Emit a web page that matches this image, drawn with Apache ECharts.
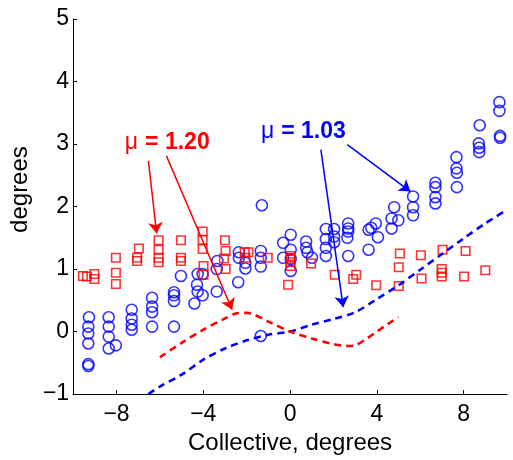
<!DOCTYPE html>
<html>
<head>
<meta charset="utf-8">
<script src="https://cdn.jsdelivr.net/npm/echarts@6/dist/echarts.min.js"></script>
<style>
html,body{margin:0;padding:0;background:#fff;}
#chart{width:513px;height:460px;}
</style>
</head>
<body>
<div id="chart"></div>
<script>
// ---- data ----
const blueX = [-9.27,-9.3,-9.3,-9.3,-9.3,-9.3,-8.36,-8.36,-8.36,-8.36,-8.03,-7.3,-7.3,-7.3,-7.3,-6.36,-6.36,-6.36,-6.36,-5.35,-5.35,-5.35,-5.35,-5.03,-4.26,-4.03,-4.29,-4.26,-4.03,-4.41,-3.38,-3.38,-3.35,-2.39,-2.36,-2.36,-2.06,-2.06,-1.35,-1.35,-1.35,-1.35,-1.3,-0.32,0.03,0.03,-0.32,0.03,0.03,0.74,0.74,0.8,1.01,1.65,2.03,1.65,2.03,2.03,1.65,1.65,2.68,2.68,2.68,2.64,2.68,3.62,3.74,3.95,4.05,3.62,4.68,4.8,4.99,4.68,5.67,5.67,5.67,6.7,6.7,6.7,6.7,7.67,7.67,7.69,7.69,8.74,8.7,8.72,8.72,9.65,9.65,9.68,9.68];
const blueY = [0.23,0.08,-0.03,-0.19,-0.52,-0.55,0.23,0.08,-0.08,-0.27,-0.22,0.35,0.21,0.11,0.03,0.54,0.4,0.31,0.08,0.63,0.58,0.49,0.08,0.89,0.92,0.92,0.75,0.64,0.58,0.45,0.64,1.0,1.13,0.79,1.27,1.18,1.1,1.01,1.29,1.18,1.04,-0.07,2.02,1.42,1.55,1.31,1.18,1.16,0.97,1.44,1.34,1.27,1.18,1.64,1.64,1.48,1.52,1.43,1.34,1.21,1.73,1.65,1.6,1.5,1.21,1.63,1.66,1.73,1.51,1.31,1.81,1.99,1.78,1.65,2.16,1.99,1.86,2.38,2.31,2.15,2.05,2.79,2.61,2.54,2.31,3.3,3.01,2.94,2.87,3.67,3.53,3.13,3.1];
const redX = [-9.55,-9.36,-9.02,-9.02,-8.03,-8.03,-8.03,-6.97,-7.05,-7.05,-6.06,-6.06,-6.06,-6.06,-5.03,-5.03,-5.03,-4.03,-4.03,-4.03,-3.99,-3.99,-3.0,-2.97,-3.05,-2.97,-2.09,-1.92,-2.06,-1.03,0.02,0.02,0.02,0.02,-0.09,0.97,2.06,2.91,3.05,3.97,5.06,5.01,5.01,6.03,6.06,7.03,6.99,6.99,6.99,8.09,8.02,9.0];
const redY = [0.89,0.88,0.92,0.84,1.18,0.94,0.76,1.33,1.18,1.13,1.46,1.31,1.18,1.11,1.46,1.18,1.13,1.6,1.47,1.32,1.05,0.91,1.46,1.29,1.17,1.0,1.27,1.27,1.18,1.18,1.21,1.16,1.11,1.05,0.75,1.09,0.91,0.84,0.91,0.74,1.25,1.03,0.73,1.22,0.85,1.31,1.0,0.94,0.88,1.29,0.88,0.98];
const blueFitX = [-6.53,-6.0,-5.0,-4.0,-3.0,-2.0,-1.0,0.0,1.0,2.0,3.0,4.0,5.0,6.0,7.0,8.0,9.0,10.0];
const blueFitY = [-1.0,-0.88,-0.69,-0.45,-0.27,-0.14,-0.05,0.0,0.11,0.2,0.31,0.52,0.74,0.99,1.24,1.49,1.73,1.95];
const redFitX = [-6.0,-5.0,-4.0,-3.0,-2.5,-2.0,-1.0,0.0,1.0,2.0,2.7,3.0,3.5,4.0,4.5,5.0];
const redFitY = [-0.41,-0.18,0.03,0.21,0.29,0.3,0.16,0.0,-0.11,-0.2,-0.23,-0.22,-0.12,0.0,0.12,0.23];
const xTicks = [-8,-4,0,4,8];
const redLabel = 'μ = 1.20';
const blueLabel = 'μ = 1.03';
// annotation anchors (data units): [x, y]
const redLabelAt = [-5.66, 3.03];
const blueLabelAt = [0.61, 3.20];
const redArrows = [[[-6.53, 2.73], [-6.15, 1.57]], [[-5.70, 2.81], [-2.67, 0.35]]];
const blueArrows = [[[1.42, 2.91], [2.45, 0.39]], [[2.64, 2.99], [5.55, 2.24]]];

const FONT = 'Liberation Sans, Arial, Helvetica, sans-serif';
const zip = (a, b) => a.map((v, i) => [v, b[i]]);
const fmt = v => String(v).replace('-', '\u2212');

function labelPoint(at, text, color) {
  const parts = text.split(' ');
  return {
    symbol: 'circle', symbolSize: 0, silent: true,
    data: [{ coord: at }],
    label: {
      show: true, position: 'inside',
      formatter: '{m|' + parts[0] + '}{b|' + parts.slice(1).join(' ') + '}',
      rich: {
        m: { color: color, fontSize: 23, fontFamily: FONT, fontWeight: 'normal', padding: [0, 7, 0, 0] },
        b: { color: color, fontSize: 23, fontFamily: FONT, fontWeight: 'bold' }
      }
    }
  };
}
function arrows(list, color) {
  return {
    silent: true, symbol: ['none', 'arrow'], symbolSize: 11,
    label: { show: false },
    lineStyle: { color: color, width: 1.5, type: 'solid' },
    data: list.map(p => [{ coord: p[0] }, { coord: p[1] }])
  };
}

const chart = echarts.init(document.getElementById('chart'), null, { renderer: 'canvas' });
chart.setOption({
  animation: false,
  backgroundColor: '#ffffff',
  grid: { left: 67, right: 6, top: 19, bottom: 58 },
  xAxis: {
    type: 'value', min: -10, max: 10,
    name: 'Collective, degrees', nameLocation: 'middle', nameGap: 28,
    nameTextStyle: { color: '#000', fontSize: 24, fontFamily: FONT },
    axisLine: { show: true, onZero: false, lineStyle: { color: '#000', width: 1 } },
    axisTick: { show: true, inside: true, length: 4, customValues: xTicks, lineStyle: { color: '#000' } },
    axisLabel: { customValues: xTicks, formatter: fmt, color: '#000', fontSize: 23, fontFamily: FONT, margin: 9 },
    splitLine: { show: false }
  },
  yAxis: {
    type: 'value', min: -1, max: 5, interval: 1,
    name: 'degrees', nameLocation: 'middle', nameGap: 33, nameRotate: 90,
    nameTextStyle: { color: '#000', fontSize: 24, fontFamily: FONT, padding: [0, 0, 0, 34] },
    axisLine: { show: true, onZero: false, lineStyle: { color: '#000', width: 1 } },
    axisTick: { show: true, inside: true, length: 4, lineStyle: { color: '#000' } },
    axisLabel: { formatter: fmt, color: '#000', fontSize: 23, fontFamily: FONT, margin: 4 },
    splitLine: { show: false }
  },
  series: [
    {
      type: 'scatter', data: zip(blueX, blueY), symbol: 'circle', symbolSize: 11,
      itemStyle: { color: 'rgba(0,0,0,0)', borderColor: '#0000ff', borderWidth: 1.6 },
      z: 2
    },
    {
      type: 'scatter', data: zip(redX, redY), symbol: 'rect', symbolSize: 8.5,
      itemStyle: { color: 'rgba(0,0,0,0)', borderColor: '#ff0000', borderWidth: 1.6 },
      z: 3
    },
    {
      type: 'line', data: zip(blueFitX, blueFitY), smooth: 0.3, symbol: 'none',
      lineStyle: { color: '#0000ff', width: 2.6, type: [7, 5] },
      markLine: arrows(blueArrows, '#0000ff'),
      markPoint: labelPoint(blueLabelAt, blueLabel, '#0000ff'),
      z: 4
    },
    {
      type: 'line', data: zip(redFitX, redFitY), smooth: 0.3, symbol: 'none',
      lineStyle: { color: '#ff0000', width: 2.6, type: [7, 5] },
      markLine: arrows(redArrows, '#ff0000'),
      markPoint: labelPoint(redLabelAt, redLabel, '#ff0000'),
      z: 4
    }
  ]
});
</script>
</body>
</html>
